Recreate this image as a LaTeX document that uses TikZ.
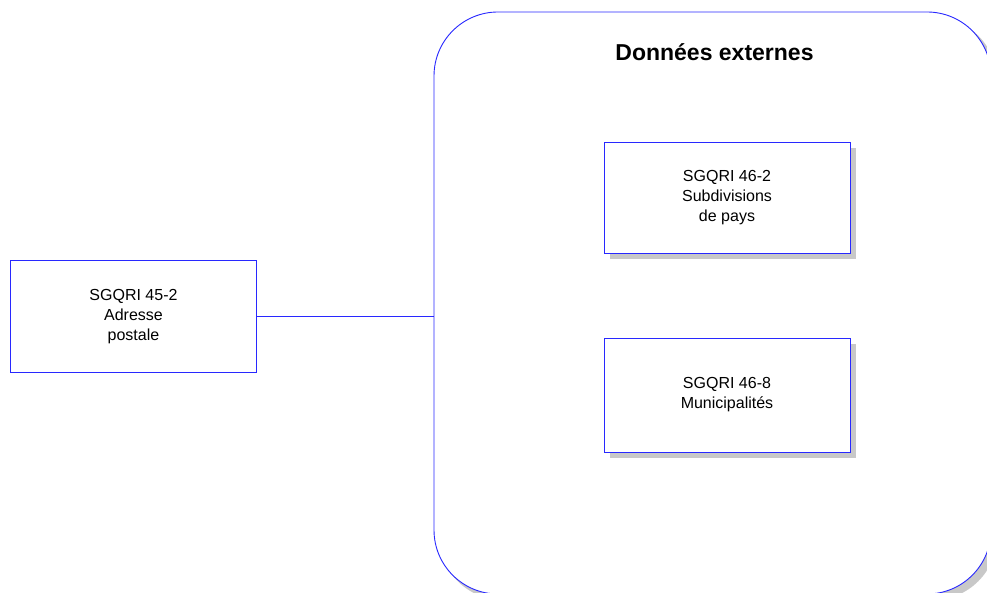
\documentclass[tikz,border=0pt]{standalone}
\usepackage{fontspec}
\setmainfont{Liberation Sans}
\definecolor{edgeblue}{RGB}{40,40,255}
\definecolor{shadowgrey}{RGB}{200,200,200}
\begin{document}
\begin{tikzpicture}[x=1pt,y=1pt,
  entity/.style={draw=edgeblue, line width=0.9pt, fill=white, minimum width=246pt, minimum height=112pt, inner sep=0pt, align=center, font=\fontsize{16}{20}\selectfont},
  shadowed/.style={entity},
  link/.style={draw=edgeblue, line width=0.9pt}]
\useasboundingbox (0,0) rectangle (987,593);
\begin{scope}
\clip (0,0) rectangle (987,593);
% big container with shadow
\fill[shadowgrey, rounded corners=64pt] (439,-7) rectangle (997,576);
\draw[edgeblue, line width=0.9pt, fill=white, rounded corners=64pt] (434,-1) rectangle (991,581);
\coordinate (cleft) at (434,278);
\end{scope}
\node[font=\fontsize{23}{28}\selectfont\bfseries] (title) at (714.5,541) {Données externes};
% shadows of inner boxes
\fill[shadowgrey] (610,334) rectangle (856,445);
\fill[shadowgrey] (610,135) rectangle (856,249);
\node[entity] (adr) at (133.5,276.5) {SGQRI 45-2\\Adresse\\postale};
\node[entity, minimum height=111pt] (sub) at (727,395.5) {SGQRI 46-2\\Subdivisions\\de pays};
\node[entity, minimum height=114pt] (mun) at (727,198) {SGQRI 46-8\\Municipalités};
\draw[link] (adr.east) -- (adr.east -| cleft);
\end{tikzpicture}
\end{document}
